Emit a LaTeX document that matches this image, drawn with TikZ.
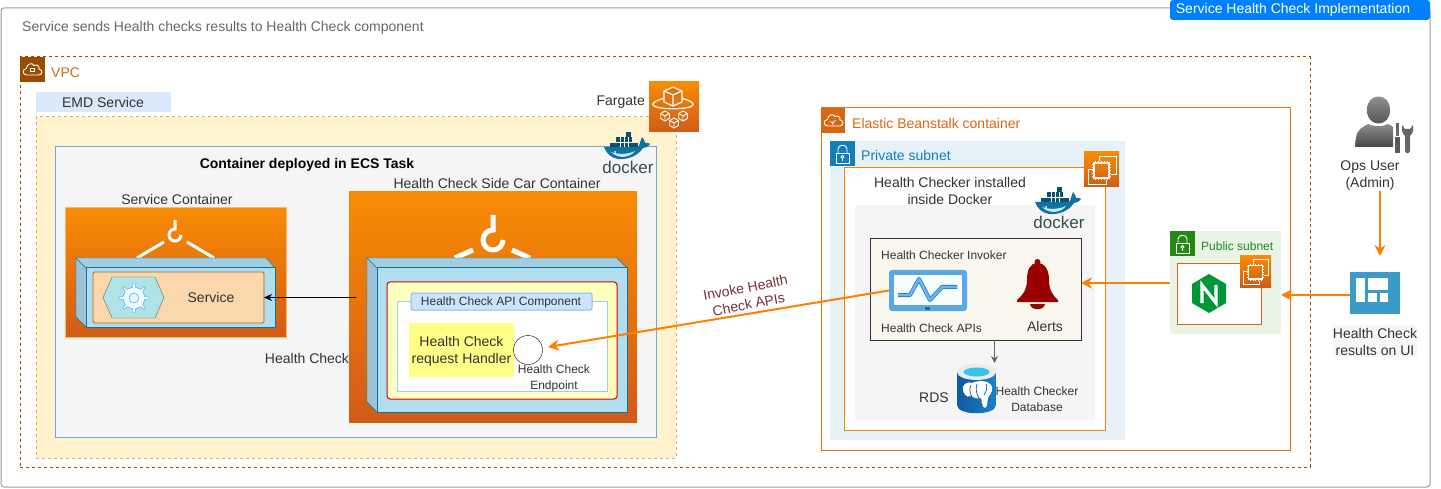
\documentclass[tikz,border=0pt]{standalone}
\usepackage{fontspec}
\setmainfont{Liberation Sans}
\usetikzlibrary{positioning,arrows.meta}
\definecolor{txtgray}{HTML}{333333}
\definecolor{awstop}{HTML}{F98B04}
\definecolor{awsbot}{HTML}{D05C17}
\definecolor{awsline}{HTML}{D86613}
\definecolor{beanline}{HTML}{E2700F}
\definecolor{vpcbrown}{HTML}{994C00}
\definecolor{linkorange}{HTML}{FF8000}
\definecolor{subnetblue}{HTML}{147EBA}
\definecolor{subnetgreen}{HTML}{248814}
\definecolor{cubefront}{HTML}{B1DDF0}
\definecolor{cubeline}{HTML}{10739E}
\definecolor{cubetop}{HTML}{A5CDE0}
\definecolor{cubeside}{HTML}{9CC2D6}
\definecolor{bannerblue}{HTML}{007FFF}
\definecolor{emdblue}{HTML}{DAE8FC}
\definecolor{taskfill}{HTML}{FFF2CC}
\definecolor{taskline}{HTML}{D6B656}
\definecolor{ecsline}{HTML}{6FA8DC}
\definecolor{serviceorange}{HTML}{FAD7AC}
\definecolor{serviceline}{HTML}{B46504}
\definecolor{hexfill}{HTML}{B0E3E6}
\definecolor{gearblue}{HTML}{3399FF}
\definecolor{panelfill}{HTML}{FFFFC0}
\definecolor{panelline}{HTML}{D00000}
\definecolor{innerline}{HTML}{99CCFF}
\definecolor{headfill}{HTML}{CCE5FF}
\definecolor{headline}{HTML}{8ABCEC}
\definecolor{handlerfill}{HTML}{FFFF88}
\definecolor{privatefill}{HTML}{E6F2F8}
\definecolor{invokerfill}{HTML}{F9F7ED}
\definecolor{monitorblue}{HTML}{5AA9E6}
\definecolor{wavedark}{HTML}{1A7FD6}
\definecolor{wavelight}{HTML}{6EB4F0}
\definecolor{bellred}{HTML}{990000}
\definecolor{rdscyan}{HTML}{35C5E8}
\definecolor{rdsleft}{HTML}{0F5A9E}
\definecolor{rdsright}{HTML}{1A80CC}
\definecolor{publicfill}{HTML}{E9F3E6}
\definecolor{nginxgreen}{HTML}{009639}
\definecolor{uiblue}{HTML}{3A9AC8}
\definecolor{invokered}{HTML}{7B2D3B}
\definecolor{dockerword}{HTML}{394D54}
\tikzset{
      box/.style 2 args={
        rectangle,anchor=north west,minimum width=#1pt,minimum height=#2pt,
        inner sep=0pt,outer sep=0pt,line width=1pt
      },
      lbl/.style={font=\fontsize{14}{17}\selectfont,text=txtgray,align=center,inner sep=0pt},
      lblsm/.style={font=\fontsize{12}{16}\selectfont,text=txtgray,align=center,inner sep=0pt},
      linkarrow/.style={draw=linkorange,line width=2pt,-{Stealth[length=11pt,width=11pt]}},
      awsgrad/.style={top color=awstop,bottom color=awsbot},
      glyph/.style={draw=white,line width=.9pt,fill=none},
      lockicon/.pic={
        \draw[glyph] (6,12) rectangle (19,22);
        \draw[glyph] (8,12) -- (8,8) .. controls (8,3) and (17,3) .. (17,8) -- (17,12);
        \draw[glyph] (12.5,16) circle[radius=1.5];
        \draw[glyph] (12.5,17.5) -- (12.5,20);
      },
      cloudicon/.pic={
        \draw[glyph] (7,18) .. controls (2,18) and (2,12) .. (6.5,11.5)
          .. controls (6.5,7) and (12,5) .. (14,8.5)
          .. controls (17,7) and (19.5,9) .. (19,12)
          .. controls (23,12.5) and (23,18) .. (18.5,18) -- cycle;
      },
      ec2icon/.pic={
        \shade[awsgrad] (0,0) rectangle (35,35);
        \draw[glyph] (15,9) -- (15,4) -- (32,4) -- (32,22) -- (27,22);
        \draw[glyph] (9,17) -- (4,17) -- (4,32) -- (22,32) -- (22,28);
        \draw[glyph,line width=1.2pt] (10,11) rectangle (25,26);
        \foreach \p in {12,15,18,21,24} {
          \draw[glyph,line width=.6pt] (\p-.5,9) -- (\p-.5,11) (\p-.5,26) -- (\p-.5,28);
          \draw[glyph,line width=.6pt] (8,\p) -- (10,\p) (25,\p) -- (27,\p);
        }
      },
      smallcube/.pic={
        \draw[glyph] (0,-5) -- (4.3,-2.5) -- (4.3,2.5) -- (0,5) -- (-4.3,2.5) -- (-4.3,-2.5) -- cycle;
        \draw[glyph] (-4.3,-2.5) -- (0,0) -- (4.3,-2.5) (0,0) -- (0,5);
      },
      hookicon/.pic={
        \draw[draw=white,line cap=butt,fill=none,line width=\pgfkeysvalueof{/tikz/hookwidth}]
          (0,-25) -- (0,-10) .. controls (-5.5,-10) and (-10,-5.5) .. (-10,0)
          .. controls (-10,5.5) and (-5.5,10) .. (0,10) .. controls (5.5,10) and (10,5.5) .. (10,0);
      },
      hookwidth/.initial=5pt,
      dockerlogo/.pic={
        \fill[fill=cubeline] (1,15) -- (35,15) .. controls (37,13) and (37,9) .. (39,5)
          .. controls (41,7) and (42,9) .. (42,11) .. controls (44,10) and (46,11) .. (47,12)
          .. controls (45,15) and (42,16) .. (40,16) .. controls (35,24) and (24,28) .. (15,27)
          .. controls (8,26) and (3,21) .. (1,15) -- cycle;
        \fill[fill=cubefront!70!white] (8,20) .. controls (16,23) and (26,22) .. (32,19)
          .. controls (28,25) and (16,28) .. (8,20) -- cycle;
        \fill[fill=white] (12,20) circle[radius=1];
        \fill[fill=cubeline!70!black] (23,0) rectangle (28,5);
        \fill[fill=cubeline!70!black] (13,5.5) rectangle (29,10.5);
        \fill[fill=cubeline!70!black] (7,11) rectangle (35,15);
        \foreach \q in {17,21,25} \draw[white,line width=.3pt] (\q,5.5) -- (\q,15);
        \node[font=\fontsize{17}{17}\selectfont,text=dockerword,inner sep=0pt] (-word) at (25,35.5) {docker};
      }
    }
\begin{document}
\begin{tikzpicture}[x=1pt,y=-1pt]
\useasboundingbox (0,0) rectangle (1441,489);
\node[box={1429}{479},draw=black!40,rounded corners=3pt] (frame) at (1,8) {};
\node[box={260}{20},fill=bannerblue,rounded corners=3pt] (banner) at (1170,0) {};
\node[lbl,text=white] (bannertext) at (1293,10) {Service Health Check Implementation};
\node[lbl,text=black!60,anchor=west] (caption) at (22,28) {Service sends Health checks results to Health Check component};

\node[box={1290}{410},draw=vpcbrown,dashed] (vpc) at (20,57) {};
\node[box={25}{25},fill=vpcbrown] (vpcbadge) at (20,57) {};
\pic (vpccloud) at (20,57) {cloudicon};
\node[glyph,box={4}{3},line width=.6pt] (vpclock) at (30.5,68) {};
\node[lbl,text=awsline,anchor=west] (vpctext) at (51,73) {VPC};

\node[box={135}{20},fill=emdblue] (emd) at (36,92) {};
\node[lbl] (emdtext) at (103,102) {EMD Service};
\node[box={640}{341},fill=taskfill,draw=taskline,dashed] (task) at (36,117) {};

\node[lbl,anchor=east] (fargatetext) at (645,102) {Fargate};
\shade[awsgrad] (649,82) rectangle (699,132);
\begin{scope}[shift={(649,82)}]
  \draw[glyph,line width=1.2pt] (17,16) .. controls (7,18) and (3,21) .. (4,23)
    .. controls (6,28) and (42,28) .. (44,23) .. controls (45,21) and (41,18) .. (31,16);
  \draw[glyph,line width=1.2pt,fill=awstop!50!awsbot] (24,5) -- (33,9) -- (33,20) -- (24,24) -- (15,20) -- (15,9) -- cycle;
  \draw[glyph,line width=1.2pt] (15,9) -- (24,13) -- (33,9) (24,13) -- (24,24);
  \foreach \cx/\cy in {16/34,34/34,25/41} \pic at (\cx,\cy) {smallcube};
\end{scope}

\node[box={601}{290},fill=black!4,draw=ecsline] (ecstask) at (55,147) {};
\node[lbl,font=\fontsize{14}{17}\selectfont\bfseries,text=black] (ecstext) at (307,165) {Container deployed in ECS Task};
\pic (dockerecs) at (603,132) {dockerlogo};

% service container
\node[lbl] (servicetext) at (177,199) {Service Container};
\node[box={221}{129},awsgrad,draw=awstop!60!white] (servicecrate) at (65,208) {};
\tikzset{hookwidth=3pt}
\pic[scale=.6] (servicehook) at (175,235) {hookicon};
\draw[white,line width=3pt] (164,242) -- (137,258) (187,242) -- (214,258);
\fill[fill=cubetop] (76,258) -- (266,258) -- (275,268) -- (86,268) -- cycle;
\fill[fill=cubeside] (76,258) -- (86,268) -- (86,327) -- (76,317) -- cycle;
\draw[cubeline] (86,268) -- (76,258) -- (266,258) -- (275,268) (76,258) -- (76,317) -- (86,327);
\node[box={189}{59},fill=cubefront,draw=cubeline] (servicecube) at (86,268) {};
\node[box={171}{51},fill=serviceorange,draw=serviceline,rounded corners=1.5pt,line width=.8pt] (serviceinner) at (93,272) {};
\draw[fill=hexfill,draw=black!60] (103,297.5) -- (112,277) -- (155,277) -- (164,297.5) -- (155,318) -- (112,318) -- cycle;
\begin{scope}[shift={(134,298)}]
  \draw[draw=gearblue,fill=white!85!cubefront]
    (-7:11) \foreach \a in {0,45,...,315} { -- (\a-7:11) -- (\a-4:15) -- (\a+4:15) -- (\a+7:11) } -- cycle;
  \draw[draw=gearblue,fill=white!70!cubefront] (0,0) circle[radius=5];
\end{scope}
\node[lbl] (servicelabel) at (211,297) {Service};

% side car container
\node[lbl] (sidecartext) at (497,183) {Health Check Side Car Container};
\node[box={288}{230},awsgrad] (sidecarcrate) at (349,192) {};
\tikzset{hookwidth=5pt}
\pic (sidecarhook) at (493,240) {hookicon};
\draw[white,line width=5pt] (473,250) -- (455,258) (512,250) -- (530,258);
\fill[fill=cubetop] (367,258) -- (617,258) -- (627,268) -- (377,268) -- cycle;
\fill[fill=cubeside] (367,258) -- (377,268) -- (377,412) -- (367,402) -- cycle;
\draw[cubeline] (377,268) -- (367,258) -- (617,258) -- (627,268) (367,258) -- (367,402) -- (377,412);
\node[box={250}{144},fill=cubefront,draw=cubeline] (sidecarcube) at (377,268) {};
\node[box={230}{117},fill=panelfill,draw=panelline,rounded corners=3pt] (apipanel) at (387,282) {};
\node[box={210}{90},fill=white,draw=innerline] (apiinner) at (397,301) {};
\node[box={181}{17},fill=headfill,draw=headline,rounded corners=2pt] (apihead) at (411,293) {};
\node[lblsm] (apiheadtext) at (501,302) {Health Check API Component};
\node[box={105}{54},fill=handlerfill] (handler) at (409,323) {};
\node[lbl] (handlertext) at (461.5,351) {Health Check\\request Handler};
\node[circle,draw=black,fill=white,minimum size=29pt,inner sep=0pt,outer sep=0pt] (endpoint) at (528,350) {};
\node[lblsm] (endpointtext) at (554,378) {Health Check\\Endpoint};
\node[lbl] (healthchecktext) at (307,358) {Health Check};

% elastic beanstalk side
\node[box={469}{342},draw=beanline] (beanstalk) at (821,108) {};
\node[box={24}{25},fill=awsline] (beanstalkbadge) at (821,108) {};
\pic (beanstalkcloud) at (821,108) {cloudicon};
\draw[glyph,line width=.6pt] (833,121) -- (833,126) (833,124) -- (830,121) (833,123) -- (836,120);
\node[lbl,text=awsline,anchor=west] (beanstalktext) at (852,123) {Elastic Beanstalk container};
\node[box={295}{299},fill=privatefill] (privatenet) at (830,141) {};
\node[box={25}{25},fill=subnetblue] (privatebadge) at (830,141) {};
\pic (privatelock) at (830,141) {lockicon};
\node[lbl,text=subnetblue,anchor=west] (privatetext) at (861,155) {Private subnet};
\node[box={261}{262},fill=white,draw=linkorange] (instance) at (844,168) {};
\pic (instancechip) at (1084,152) {ec2icon};
\node[lbl] (instancetext) at (950,190.5) {Health Checker installed\\inside Docker};
\node[box={240}{215},fill=black!4] (dockerhost) at (855,205) {};
\pic (dockerinst) at (1034,187) {dockerlogo};
\node[box={211}{101},fill=invokerfill,draw=txtgray] (invoker) at (870,239) {};
\node[lblsm,anchor=west] (invokertext) at (881,255) {Health Checker Invoker};
\node[box={78}{41},fill=monitorblue,rounded corners=3pt] (monitor) at (889,270) {};
\node[box={68}{30},fill=white!90!cubefront] (monitorscreen) at (894,275) {};
\fill[fill=cubeline] (925,307) rectangle (930,310);
\draw[draw=wavedark,line width=4pt,line join=round] (898,295) -- (910,295) -- (919,279) -- (930,300) -- (942,287) -- (957,287);
\draw[draw=wavelight,line width=2.4pt,line join=round] (898,295) -- (910,295) -- (919,279) -- (930,300) -- (942,287) -- (957,287);
\node[lblsm,anchor=west] (apistext) at (881,328) {Health Check APIs};
\fill[fill=bellred] (1037.5,263) .. controls (1030,263) and (1027,270) .. (1027,280)
  .. controls (1027,290) and (1022,296) .. (1017,300) -- (1017,302) -- (1058,302) -- (1058,300)
  .. controls (1053,296) and (1049,290) .. (1049,280) .. controls (1049,270) and (1045,263) .. (1037.5,263) -- cycle;
\fill[fill=bellred] (1037.5,262) circle[radius=3];
\fill[fill=bellred] (1030,304) .. controls (1031,311) and (1044,311) .. (1045,304) -- cycle;
\node[lbl] (alertstext) at (1045,326) {Alerts};

\shade[left color=rdsleft,right color=rdsright] (957,372) -- (957,405)
  .. controls (957,416) and (996,416) .. (996,405) -- (996,372) -- cycle;
\draw[fill=black!8,draw=none] (976.5,372) ellipse[x radius=19.5,y radius=8];
\draw[fill=rdscyan,draw=none] (976.5,372) ellipse[x radius=13,y radius=4.5];
\fill[fill=white] (972,383) .. controls (978,380) and (990,380) .. (992,387)
  .. controls (993,393) and (989,395) .. (988,398) .. controls (987,402) and (988,406) .. (985,408)
  .. controls (982,407) and (982,402) .. (981,398) .. controls (978,399) and (974,398) .. (971,396)
  .. controls (966,399) and (962,392) .. (963,387) .. controls (964,384) and (968,381) .. (972,383) -- cycle;
\draw[draw=rdsleft,line width=.7pt] (971,385) .. controls (969,389) and (970,394) .. (972,397)
  (977,384) .. controls (975,389) and (977,395) .. (979,398) (986,384) .. controls (988,387) and (986,392) .. (984,395);
\node[box={39}{49},fill=none] (rds) at (957,364) {};
\node[lbl] (rdstext) at (934,398) {RDS};
\node[lblsm] (rdsdbtext) at (1037,399.5) {Health Checker\\Database};

% public subnet
\node[box={111}{103},fill=publicfill] (publicnet) at (1170,231) {};
\node[box={25}{25},fill=subnetgreen] (publicbadge) at (1170,231) {};
\pic (publiclock) at (1170,231) {lockicon};
\node[lblsm,text=subnetgreen,anchor=west] (publictext) at (1201,246) {Public subnet};
\node[box={84}{60},fill=white,draw=awsline] (nginxbox) at (1177,264) {};
\pic[scale=.886] (nginxchip) at (1240,256) {ec2icon};
\fill[fill=nginxgreen] (1209,274) -- (1226,284) -- (1226,303) -- (1209,313) -- (1192,303) -- (1192,284) -- cycle;
\draw[draw=white,line width=3.2pt,line join=miter] (1202,303) -- (1202,285) -- (1216,303) -- (1216,285);

% right hand side
\shade[top color=black!40,bottom color=black!70] (1367,110) .. controls (1367,92) and (1390,92) .. (1390,110)
  .. controls (1390,128) and (1367,128) .. (1367,110) -- cycle;
\shade[top color=black!45,bottom color=black!72] (1355,147) -- (1356,138) .. controls (1357,129) and (1363,127) .. (1368,124)
  .. controls (1374,127) and (1383,127) .. (1388,124) .. controls (1390,125) and (1392,126) .. (1393,127) -- (1393,147) -- cycle;
\fill[fill=black!60] (1396,123) rectangle (1399,136);
\fill[fill=black!65] (1395,137) rectangle (1400,153);
\fill[fill=black!60] (1402,125) .. controls (1401,131) and (1403,134) .. (1405,136) -- (1405,151) .. controls (1406,154) and (1409,154) .. (1410,151)
  -- (1410,136) .. controls (1412,134) and (1414,131) .. (1413,125) -- (1410,129) -- (1405,129) -- cycle;
\node[lbl] (opstext) at (1370,176) {Ops User\\(Admin)};
\coordinate (opsout) at (1380,191);
\coordinate (uiin) at (1380,256);

\node[box={50}{42},fill=uiblue] (uiicon) at (1350,272) {};
\foreach \ax/\ay/\bx/\by in {1356/278/1365/302,1368/278/1388/290,1368/293/1377/302,1380/293/1388/302}
  \fill[fill=white] (\ax,\ay) rectangle (\bx,\by);
\node[box={84}{32},fill=black!3] (uitextback) at (1333,325) {};
\node[lbl] (uitext) at (1375,341.5) {Health Check\\results on UI};

% links
\node[lbl,text=invokered,rotate=11] (invokelabel) at (747,296) {Invoke Health\\Check APIs};
\coordinate (endpointin) at (548,347);
\draw[draw=black,-{Stealth[length=8pt,width=7pt]}] (356,297.5) coordinate (sidecarout) -- (serviceinner.east);
\draw[linkarrow] (monitor.west) -- (endpointin);
\draw[draw=black!60,-{Stealth[length=7pt,width=7pt]},line width=1pt] (invoker.south -| rds.north) ++(18,0) coordinate (invokerout) -- ++(0,23) coordinate (rdsin);
\draw[linkarrow] (publicnet.west |- invoker.east) ++(0,-6.5) coordinate (publicout) -- (invoker.east |- publicout);
\draw[linkarrow] (uiicon.west) ++(0,2) coordinate (uiout) -- (publicnet.east |- uiout);
\draw[linkarrow] (opsout) -- (uiin);
\end{tikzpicture}
\end{document}
